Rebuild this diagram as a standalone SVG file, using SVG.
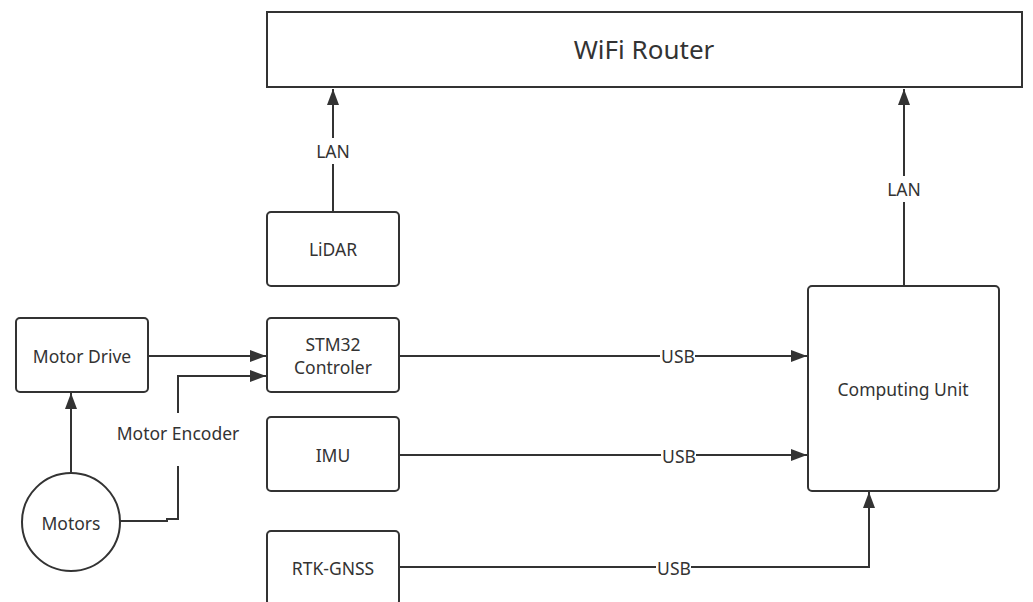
<svg xmlns="http://www.w3.org/2000/svg" width="1033" height="602" viewBox="0 0 1033 602">
<style>
.box{fill:#fff;stroke:#333;stroke-width:2}
.t{font-family:"Noto Sans","Open Sans",sans-serif;font-size:17.5px;fill:#333;text-anchor:middle;dominant-baseline:central}
.c{fill:none;stroke:#333;stroke-width:2}
.lbl{font-family:"Noto Sans","Open Sans",sans-serif;font-size:17.5px;fill:#333;text-anchor:middle;dominant-baseline:central}
</style>
<defs>
<marker id="ah2" viewBox="0 0 16 12" refX="16" refY="6" markerWidth="16" markerHeight="12" markerUnits="userSpaceOnUse" orient="auto">
<path d="M0,0 L16,6 L0,12 z" fill="#333"/>
</marker>
</defs>
<rect width="1033" height="602" fill="#fff"/>
<g id="connectors">
<path class="c" d="M333,212 V164" />
<path class="c" d="M333,138 V89" marker-end="url(#ah2)"/>
<text class="lbl" x="333" y="151">LAN</text>
<path class="c" d="M904,286 V202" />
<path class="c" d="M904,176 V89" marker-end="url(#ah2)"/>
<text class="lbl" x="904" y="189">LAN</text>
<path class="c" d="M148,356 H266" marker-end="url(#ah2)"/>
<path class="c" d="M71,473 V393" marker-end="url(#ah2)"/>
<path class="c" d="M120,521 H167 V519 H178 V466"/>
<path class="c" d="M178,413 V376 H266" marker-end="url(#ah2)"/>
<text class="lbl" x="178" y="433">Motor Encoder</text>
<path class="c" d="M399,356 H660"/>
<path class="c" d="M695,356 H807" marker-end="url(#ah2)"/>
<text class="lbl" x="678" y="356">USB</text>
<path class="c" d="M399,455 H661"/>
<path class="c" d="M696,455 H807" marker-end="url(#ah2)"/>
<text class="lbl" x="679" y="456">USB</text>
<path class="c" d="M399,567 H656"/>
<path class="c" d="M691,567 H869 V492" marker-end="url(#ah2)"/>
<text class="lbl" x="674" y="568">USB</text>
</g>
<g id="wifi-router">
<rect class="box" x="267" y="12" width="755" height="75"/>
<text class="t" x="644" y="49" style="font-size:26px">WiFi Router</text>
</g>
<g id="lidar">
<rect class="box" x="267" y="212" width="132" height="74" rx="4"/>
<text class="t" x="333" y="249">LiDAR</text>
</g>
<g id="stm32">
<rect class="box" x="267" y="318" width="132" height="74" rx="4"/>
<text class="t" x="333" y="344">STM32</text>
<text class="t" x="333" y="367">Controler</text>
</g>
<g id="imu">
<rect class="box" x="267" y="417" width="132" height="74" rx="4"/>
<text class="t" x="333" y="455">IMU</text>
</g>
<g id="rtk-gnss">
<rect class="box" x="267" y="531" width="132" height="74" rx="4"/>
<text class="t" x="333" y="568">RTK-GNSS</text>
</g>
<g id="motor-drive">
<rect class="box" x="16" y="318" width="132" height="74" rx="4"/>
<text class="t" x="82" y="356">Motor Drive</text>
</g>
<g id="motors">
<circle class="box" cx="71" cy="522" r="49"/>
<text class="t" x="71" y="523">Motors</text>
</g>
<g id="computing-unit">
<rect class="box" x="808" y="286" width="191" height="205" rx="4"/>
<text class="t" x="903" y="389">Computing Unit</text>
</g>
</svg>
